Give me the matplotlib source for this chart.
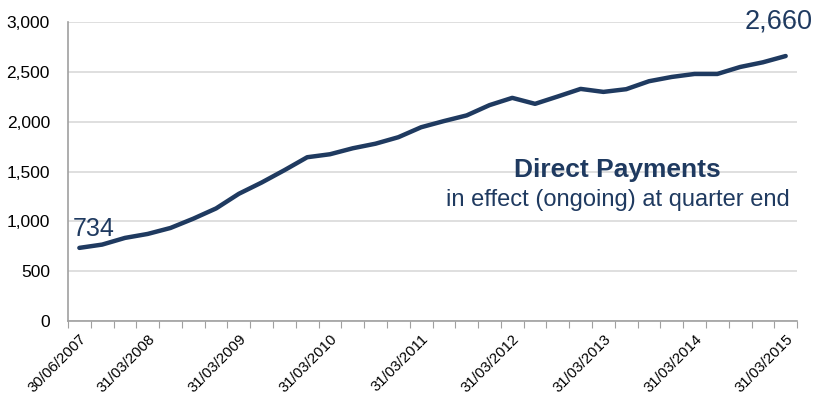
import matplotlib.pyplot as plt
import numpy as np

# quarter-end dates, 30/06/2007 .. 31/03/2015
quarters = []
for yr in range(2007, 2016):
    for d in ["31/03", "30/06", "30/09", "31/12"]:
        quarters.append(d + "/" + str(yr))
quarters = quarters[1:33]

payments = [734, 767, 834, 874, 934, 1027, 1130, 1277, 1390, 1514,
            1644, 1674, 1734, 1780, 1845, 1945, 2007, 2064, 2167, 2240,
            2180, 2254, 2330, 2300, 2327, 2407, 2450, 2480, 2480, 2550,
            2597, 2660]

label_idx = [0, 3, 7, 11, 15, 19, 23, 27, 31]

navy = "#1f3a60"
plt.rcParams['font.family'] = ['Liberation Sans', 'DejaVu Sans']

fig = plt.figure(figsize=(8.15, 4.03), dpi=100)
ax = fig.add_axes([0.0834, 0.2035, 0.8946, 0.7415])

x = np.arange(len(payments))
ax.plot(x, payments, color=navy, lw=3.2, solid_capstyle='round', zorder=3)

ax.set_xlim(-0.5, len(payments) - 0.5)
ax.set_ylim(0, 3000)
ax.set_yticks(np.arange(0, 3001, 500))
ax.set_yticklabels(["{:,}".format(v) for v in range(0, 3001, 500)], fontsize=12.5)
ax.yaxis.grid(True, color="#d9d9d9", lw=1.2)
ax.set_axisbelow(True)
ax.tick_params(axis='y', length=0, pad=13)

# tick marks between categories, labels on selected quarters
ax.set_xticks(np.arange(-0.5, len(payments), 1.0))
ax.set_xticklabels([])
ax.tick_params(axis='x', which='major', length=5, color="#a0a0a0", direction='out')
ax.set_xticks(label_idx, minor=True)
ax.set_xticklabels([quarters[i] for i in label_idx], minor=True,
                   rotation=45, ha='right', va='top', rotation_mode='anchor', fontsize=10.8)
ax.tick_params(axis='x', which='minor', length=0, pad=8)

for s in ['top', 'right']:
    ax.spines[s].set_visible(False)
for s in ['left', 'bottom']:
    ax.spines[s].set_color("#a0a0a0")
    ax.spines[s].set_linewidth(1.2)

ax.text(-0.3, payments[0] + 70, "734", color=navy, fontsize=18, ha='left', va='bottom')
ax.text(32.2, 3010, "2,660", color=navy, fontsize=19.5, ha='right', va='center',
        clip_on=False)

ax.text(23.62, 1517, "Direct Payments", color=navy, fontsize=19, fontweight='bold',
        ha='center', va='center')
ax.text(23.62, 1217, "in effect (ongoing) at quarter end", color=navy, fontsize=17,
        ha='center', va='center')

fig.savefig("out.png", dpi=100)
